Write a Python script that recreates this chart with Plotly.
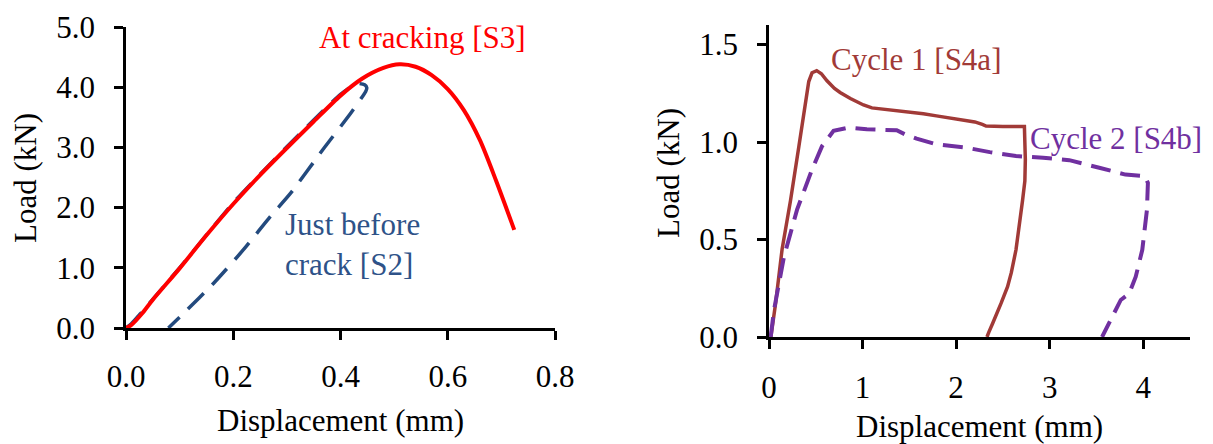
import plotly.graph_objects as go

# ---------------- data: left panel ----------------
s3_x = [0, 0.01, 0.03, 0.05, 0.10, 0.15, 0.20, 0.25, 0.30, 0.35, 0.40, 0.44, 0.48,
        0.51, 0.54, 0.57, 0.60, 0.63, 0.66, 0.69, 0.724]
s3_y = [0, 0.05, 0.24, 0.47, 0.99, 1.54, 2.06, 2.54, 2.99, 3.43, 3.86, 4.14, 4.32,
        4.38, 4.34, 4.20, 3.97, 3.62, 3.12, 2.45, 1.63]

s2_x = [0, 0.01, 0.03, 0.10, 0.20, 0.30, 0.40, 0.43, 0.445, 0.449, 0.447, 0.42,
        0.369, 0.307, 0.269, 0.219, 0.163, 0.107, 0.079]
s2_y = [0, 0.07, 0.27, 1.00, 2.08, 3.01, 3.88, 4.06, 4.04, 3.99, 3.93, 3.58,
        2.985, 2.24, 1.85, 1.30, 0.74, 0.24, 0.0]

# ---------------- data: right panel ----------------
s4a_x = [0.02, 0.07, 0.14, 0.23, 0.32, 0.39, 0.425, 0.46, 0.51, 0.56, 0.62, 0.70,
         0.76, 0.87, 1.01, 1.10, 1.22, 1.35, 1.50, 1.65, 1.79, 2.00, 2.20, 2.28,
         2.32, 2.50, 2.73, 2.74, 2.735, 2.71, 2.68, 2.64, 2.59, 2.55, 2.48, 2.43,
         2.39, 2.35, 2.33]
s4a_y = [0.0, 0.17, 0.45, 0.70, 0.98, 1.22, 1.31, 1.355, 1.366, 1.35, 1.314, 1.275,
         1.254, 1.223, 1.19, 1.175, 1.168, 1.162, 1.156, 1.145, 1.134, 1.12, 1.103,
         1.09, 1.082, 1.079, 1.079, 0.91, 0.80, 0.70, 0.58, 0.447, 0.33, 0.258,
         0.172, 0.11, 0.069, 0.025, 0.0]

s4b_x = [0.018, 0.053, 0.16, 0.30, 0.46, 0.567, 0.69, 0.85, 1.046, 1.20, 1.365,
         1.45, 1.578, 1.79, 2.11, 2.36, 2.64, 2.93, 3.21, 3.53, 3.81, 4.02, 4.05,
         4.04, 3.99, 3.92, 3.85, 3.76, 3.72, 3.69, 3.56]
s4b_y = [0.0, 0.137, 0.412, 0.653, 0.859, 0.979, 1.057, 1.074, 1.065, 1.064, 1.06,
         1.04, 1.017, 0.988, 0.971, 0.948, 0.928, 0.919, 0.907, 0.868, 0.833, 0.825,
         0.79, 0.653, 0.447, 0.309, 0.223, 0.19, 0.15, 0.12, 0.0]

left_xticks = [0, 0.2, 0.4, 0.6, 0.8]
left_yticks = [0, 1, 2, 3, 4, 5]
right_xticks = [0, 1, 2, 3, 4]
right_yticks = [0, 0.5, 1.0, 1.5]

FONT = "Liberation Serif"
FS = 31
RED = "#FF0000"
BLUE = "#234A7E"
BLUE_TXT = "#2E5288"
BROWN = "#A13A37"
PURPLE = "#7030A0"

W, H = 1213, 444

fig = go.Figure()
fig.add_trace(go.Scatter(x=s2_x, y=s2_y, mode="lines", xaxis="x", yaxis="y",
                         line=dict(color=BLUE, width=3.5, dash="22px,12px",
                                   shape="spline", smoothing=0.6),
                         name="Just before crack [S2]"))
fig.add_trace(go.Scatter(x=s3_x, y=s3_y, mode="lines", xaxis="x", yaxis="y",
                         line=dict(color=RED, width=4, shape="spline", smoothing=0.8),
                         name="At cracking [S3]"))
fig.add_trace(go.Scatter(x=s4a_x, y=s4a_y, mode="lines", xaxis="x2", yaxis="y2",
                         line=dict(color=BROWN, width=3.5), name="Cycle 1 [S4a]"))
fig.add_trace(go.Scatter(x=s4b_x, y=s4b_y, mode="lines", xaxis="x2", yaxis="y2",
                         line=dict(color=PURPLE, width=4, dash="20px,10px"),
                         name="Cycle 2 [S4b]"))

axis_common = dict(showline=True, linecolor="black", linewidth=2.5, ticks="outside",
                   ticklen=9, tickwidth=2.5, tickcolor="black", showgrid=False,
                   zeroline=False, automargin=False,
                   tickfont=dict(family=FONT, size=FS, color="black"))

fig.update_layout(
    template="none",
    width=W, height=H, margin=dict(l=0, r=0, t=0, b=0, pad=0),
    paper_bgcolor="white", plot_bgcolor="white", showlegend=False,
    font=dict(family=FONT, size=FS, color="black"),
    xaxis=dict(domain=[126 / W, 555 / W], anchor="y", range=[0, 0.8],
               tickvals=left_xticks, tickformat=".1f", ticklabelstandoff=10, **axis_common),
    yaxis=dict(domain=[(H - 328) / H, (H - 27) / H], anchor="x", range=[0, 5],
               tickvals=left_yticks, tickformat=".1f", ticklabelstandoff=13, **axis_common),
    xaxis2=dict(domain=[769 / W, 1190 / W], anchor="y2", range=[0, 4.5],
                tickvals=right_xticks, tickformat="d", ticklabelstandoff=12, **axis_common),
    yaxis2=dict(domain=[(H - 337) / H, (H - 25) / H], anchor="x2", range=[0, 1.6],
                tickvals=right_yticks, tickformat=".1f", ticklabelstandoff=13, **axis_common),
)

ann = []
# axis titles
ann.append(dict(text="Load (kN)", x=25 / W, y=1 - 178 / H, xref="paper", yref="paper",
                textangle=-90, showarrow=False, xanchor="center", yanchor="middle"))
ann.append(dict(text="Displacement (mm)", x=340 / W, y=1 - 420 / H, xref="paper", yref="paper",
                showarrow=False, xanchor="center", yanchor="middle"))
ann.append(dict(text="Load (kN)", x=668 / W, y=1 - 173 / H, xref="paper", yref="paper",
                textangle=-90, showarrow=False, xanchor="center", yanchor="middle"))
ann.append(dict(text="Displacement (mm)", x=979 / W, y=1 - 426 / H, xref="paper", yref="paper",
                showarrow=False, xanchor="center", yanchor="middle"))
# series labels
ann.append(dict(text="At cracking [S3]", x=0.553, y=4.83, xref="x", yref="y",
                showarrow=False, font=dict(color=RED, size=FS, family=FONT)))
ann.append(dict(text="Just before<br>crack [S2]", x=0.293, y=1.38, xref="x", yref="y",
                showarrow=False, xanchor="left", align="left",
                font=dict(color=BLUE_TXT, size=FS, family=FONT)))
ann.append(dict(text="Cycle 1 [S4a]", x=1.576, y=1.423, xref="x2", yref="y2",
                showarrow=False, font=dict(color=BROWN, size=FS, family=FONT)))
ann.append(dict(text="Cycle 2 [S4b]", x=3.71, y=1.02, xref="x2", yref="y2",
                showarrow=False, font=dict(color=PURPLE, size=FS, family=FONT)))
fig.update_layout(annotations=ann)

fig.write_html("out.html")
